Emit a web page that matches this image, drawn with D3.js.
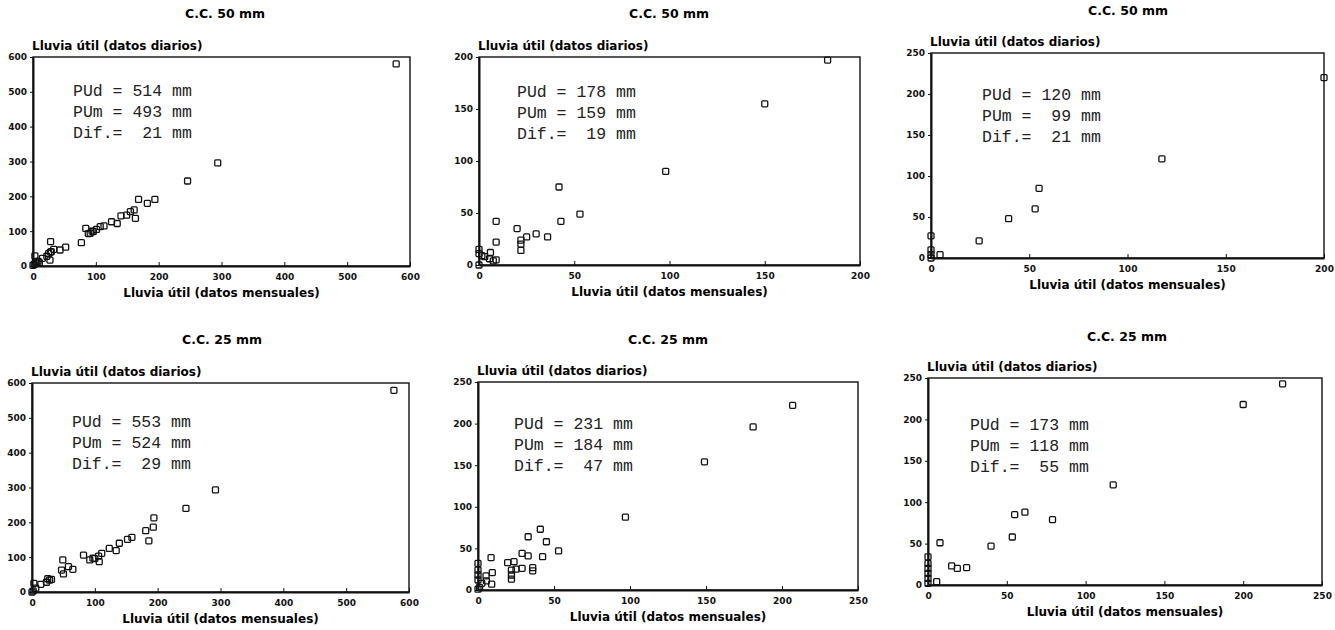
<!DOCTYPE html>
<html>
<head>
<meta charset="utf-8">
<script src="https://cdn.jsdelivr.net/npm/d3@7"></script>
<style>
  html, body { margin: 0; padding: 0; background: #fff; }
  svg { display: block; }
</style>
</head>
<body>
<div id="chart"></div>
<script>
// ── Data: [lluvia útil mensual, lluvia útil diaria] per panel ──
const cc50Left = [
  [0, 2], [2, 5], [3, 29], [4, 12], [6, 8], [8, 14], [10, 10], [15, 22], [22, 28], [25, 36],
  [27, 17], [28, 40], [29, 41], [28, 70], [33, 48], [43, 46], [52, 54], [77, 67], [84, 108],
  [88, 93], [91, 94], [94, 100], [96, 99], [101, 105], [107, 113], [113, 115], [125, 127],
  [134, 122], [140, 144], [149, 146], [155, 156], [161, 161], [163, 137], [168, 191],
  [182, 180], [194, 191], [246, 244], [294, 296], [578, 580]
];
const cc50Mid = [
  [0, 0], [0, 11], [0, 15], [1.5, 9], [3, 8], [5.5, 6], [6, 12], [7.5, 4], [9, 5], [9, 22],
  [9, 42], [20, 35], [22, 14], [22, 20], [22, 24], [25, 27], [30, 30], [36, 27], [42, 75],
  [43, 42], [53, 49], [98, 90], [150, 155], [183, 197]
];
const cc50Right = [
  [0, 0], [0, 4], [0, 10], [0, 27], [4.6, 4], [24.5, 21], [39.5, 48], [53, 60], [55, 85],
  [117.5, 121], [200, 220]
];
const cc25Left = [
  [0, 0], [2, 3], [3, 25], [6, 11], [14, 22], [23, 28], [25, 38], [28, 34], [31, 36], [47, 63],
  [49, 92], [50, 52], [58, 73], [65, 65], [82, 106], [92, 92], [97, 97], [100, 96], [106, 103],
  [107, 87], [111, 111], [123, 125], [134, 119], [139, 140], [152, 151], [159, 157], [181, 176],
  [186, 147], [193, 186], [194, 213], [245, 240], [292, 293], [576, 579]
];
const cc25Mid = [
  [0, 1], [0, 12], [0, 18], [0, 24], [0, 32], [1, 3], [2.5, 8], [5.5, 11], [5.3, 17], [9, 7],
  [9.4, 21], [8.6, 39], [19.5, 33], [22, 13], [22, 18], [22, 24], [23.7, 34], [25, 25], [29, 26],
  [29, 44], [33, 41], [33, 64], [36, 23], [36, 27], [41, 73], [42.5, 40], [45, 58], [53, 47],
  [97, 87.5], [149, 154], [181, 196], [207, 222]
];
const cc25Right = [
  [0, 2], [0, 8], [0, 14], [0, 20], [0, 26], [0, 34], [5.5, 4], [7.6, 51], [15, 23], [18.6, 20],
  [24.5, 21], [40, 47], [53.5, 58], [55, 85], [61.5, 88], [79, 79], [117.5, 121], [200, 218],
  [225, 243]
];

const titles = ["C.C. 50 mm", "C.C. 50 mm", "C.C. 50 mm", "C.C. 25 mm", "C.C. 25 mm", "C.C. 25 mm"];
const xTicks = [
  [0, 100, 200, 300, 400, 500, 600],
  [0, 50, 100, 150, 200],
  [0, 50, 100, 150, 200],
  [0, 100, 200, 300, 400, 500, 600],
  [0, 50, 100, 150, 200, 250],
  [0, 50, 100, 150, 200, 250]
];
const yTicks = [
  [0, 100, 200, 300, 400, 500, 600],
  [0, 50, 100, 150, 200],
  [0, 50, 100, 150, 200, 250],
  [0, 100, 200, 300, 400, 500, 600],
  [0, 50, 100, 150, 200, 250],
  [0, 50, 100, 150, 200, 250]
];
const puDiario = [514, 178, 120, 553, 231, 173];
const puMensual = [493, 159, 99, 524, 184, 118];
const diferencia = [21, 19, 21, 29, 47, 55];
const series = [cc50Left, cc50Mid, cc50Right, cc25Left, cc25Mid, cc25Right];

// ── Layout (plot frame in page pixels) ──
const frames = [
  { l: 33, t: 57, r: 410, b: 266, tx: 225, ty: 18, ax: 73, ay: 96 },
  { l: 479, t: 57, r: 860, b: 265, tx: 669, ty: 18, ax: 517, ay: 97 },
  { l: 931, t: 53, r: 1324, b: 258, tx: 1128, ty: 15, ax: 982, ay: 100 },
  { l: 32, t: 383, r: 409, b: 592, tx: 222, ty: 344, ax: 72, ay: 427 },
  { l: 478, t: 382, r: 858, b: 590, tx: 668, ty: 344, ax: 514, ay: 429 },
  { l: 928, t: 378, r: 1322, b: 585, tx: 1127, ty: 341, ax: 970, ay: 430 }
];

const W = 1335, H = 630;
const FONT = "'DejaVu Sans', 'Liberation Sans', Arial, sans-serif";
const MONO = "'Liberation Mono', 'Courier New', 'DejaVu Sans Mono', monospace";

const svg = d3.select("#chart").append("svg")
  .attr("width", W).attr("height", H);

series.forEach(function (pts, i) {
  const f = frames[i];
  const xt = xTicks[i], yt = yTicks[i];

  const x = d3.scaleLinear().domain([0, xt[xt.length - 1]]).range([f.l, f.r]);
  const y = d3.scaleLinear().domain([0, yt[yt.length - 1]]).range([f.b, f.t]);

  const g = svg.append("g");

  // title
  g.append("text")
    .attr("x", f.tx).attr("y", f.ty)
    .attr("text-anchor", "middle")
    .attr("font-family", FONT).attr("font-weight", "bold").attr("font-size", "12.5px")
    .text(titles[i]);

  // y axis title
  g.append("text")
    .attr("x", f.l - 1).attr("y", f.t - 7)
    .attr("font-family", FONT).attr("font-weight", "bold").attr("font-size", "12px")
    .text("Lluvia útil (datos diarios)");

  // x axis title
  g.append("text")
    .attr("x", (f.l + f.r) / 2).attr("y", f.b + 31)
    .attr("text-anchor", "middle")
    .attr("font-family", FONT).attr("font-weight", "bold").attr("font-size", "12px")
    .text("Lluvia útil (datos mensuales)");

  // frame top/right
  g.append("rect")
    .attr("x", f.l).attr("y", f.t)
    .attr("width", f.r - f.l).attr("height", f.b - f.t)
    .attr("fill", "none").attr("stroke", "#111").attr("stroke-width", 1.4);

  // axes
  const xAxis = g.append("g")
    .attr("transform", `translate(0,${f.b})`)
    .call(d3.axisBottom(x).tickValues(xt).tickSize(-4).tickPadding(8).tickSizeOuter(0));
  const yAxis = g.append("g")
    .attr("transform", `translate(${f.l},0)`)
    .call(d3.axisLeft(y).tickValues(yt).tickSize(3).tickPadding(3).tickSizeOuter(0));

  [xAxis, yAxis].forEach(function (a) {
    a.select(".domain").attr("stroke", "#111").attr("stroke-width", 2);
    a.selectAll(".tick line").attr("stroke", "#111").attr("stroke-width", 1);
    a.selectAll(".tick text")
      .attr("fill", "#111")
      .attr("font-family", FONT).attr("font-weight", "bold").attr("font-size", "9px");
  });

  // annotation
  const ann = [
    "PUd = " + String(puDiario[i]).padStart(3, " ") + " mm",
    "PUm = " + String(puMensual[i]).padStart(3, " ") + " mm",
    "Dif.= " + String(diferencia[i]).padStart(3, " ") + " mm"
  ];
  g.append("g").selectAll("text")
    .data(ann).join("text")
    .attr("x", f.ax).attr("y", (d, k) => f.ay + k * 21)
    .attr("xml:space", "preserve").style("white-space", "pre")
    .attr("font-family", MONO).attr("font-size", "16.5px").attr("fill", "#222")
    .text(d => d);

  // points
  g.append("g").selectAll("rect.pt")
    .data(pts).join("rect")
    .attr("class", "pt")
    .attr("x", d => x(d[0]) - 3).attr("y", d => y(d[1]) - 3)
    .attr("width", 6).attr("height", 6).attr("rx", 1)
    .attr("fill", "#fff").attr("fill-opacity", 0)
    .attr("stroke", "#111").attr("stroke-width", 1.3);
});
</script>
</body>
</html>
